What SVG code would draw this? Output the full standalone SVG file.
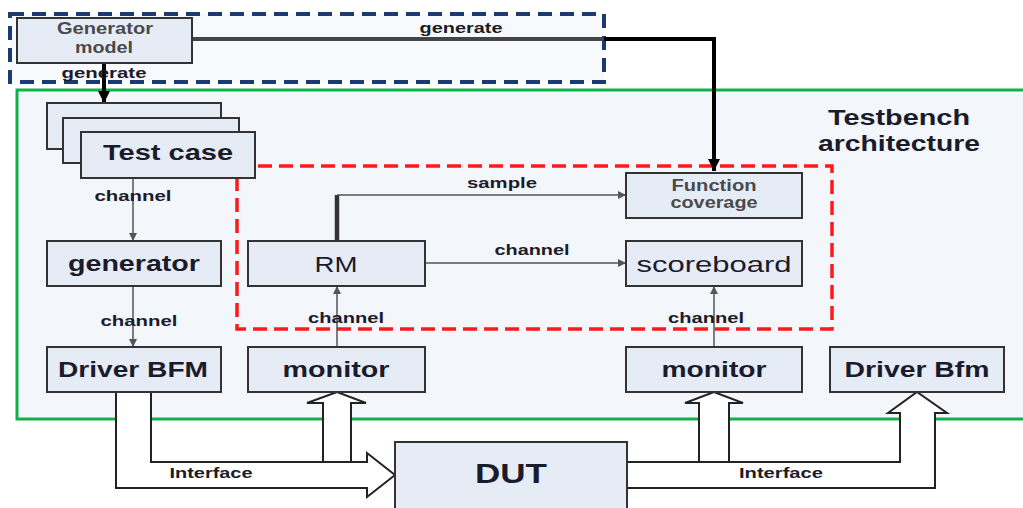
<svg xmlns="http://www.w3.org/2000/svg" width="1023" height="508" viewBox="0 0 1023 508">
  <defs>
    <style>
      .box { fill: #e6ecf6; stroke: #333; stroke-width: 2; }
      .t { font-family: "Liberation Sans", Arial, sans-serif; text-anchor: middle; fill: #1b1b2c; }
      .b { font-weight: bold; }
      .grey { fill: #4a4a4a; }
      .lbl { font-family: "Liberation Sans", Arial, sans-serif; font-weight: bold; font-size: 15px; fill: #1b1b2c; }
      .wire { fill: none; stroke: #555; stroke-width: 1.5; }
      .fat { fill: #fff; stroke: #222; stroke-width: 2; stroke-linejoin: miter; }
    </style>
    <marker id="ah" viewBox="0 0 10 10" refX="10" refY="5" markerWidth="8" markerHeight="8" markerUnits="userSpaceOnUse" orient="auto">
      <path d="M0,0 L10,5 L0,10 z" fill="#555"/>
    </marker>
    <marker id="ahb" viewBox="0 0 10 10" refX="10" refY="5" markerWidth="12" markerHeight="12" markerUnits="userSpaceOnUse" orient="auto">
      <path d="M0,0 L10,5 L0,10 z" fill="#000"/>
    </marker>
  </defs>

  <rect width="1023" height="508" fill="#fff"/>

  <!-- model area -->
  <rect id="model-area" x="10" y="14" width="594" height="68" fill="#f8f9fc" stroke="#1c3a70" stroke-width="4" stroke-dasharray="14 8"/>

  <!-- testbench area -->
  <g id="testbench">
    <rect x="17" y="90" width="1020" height="329" fill="#f3f6fb" stroke="#12b04a" stroke-width="3"/>
    <text class="t b" x="899" y="125" font-size="22" textLength="142" lengthAdjust="spacingAndGlyphs">Testbench</text>
    <text class="t b" x="899" y="151" font-size="22" textLength="162" lengthAdjust="spacingAndGlyphs">architecture</text>
  </g>

  <!-- check area -->
  <rect id="check-area" x="237" y="166" width="595" height="163" fill="none" stroke="#ff1a1a" stroke-width="3.5" stroke-dasharray="14 7"/>

  <!-- interfaces between BFMs, monitors and DUT -->
  <g id="interfaces">
    <polygon class="fat" points="116,392 116,488 367,488 367,497 395,475 367,453 367,462 151,462 151,392"/>
    <polygon class="fat" points="627,462 900,462 900,413 888,413 917,392 947,413 935,413 935,488 627,488"/>
    <polygon class="fat" points="323,462 323,403 307,403 337,392 366,403 351,403 351,462"/>
    <polygon class="fat" points="699,462 699,403 685,403 714,392 743,403 729,403 729,462"/>
    <text class="lbl" x="211" y="478" font-size="14" text-anchor="middle" textLength="83" lengthAdjust="spacingAndGlyphs">Interface</text>
    <text class="lbl" x="781" y="478" font-size="14" text-anchor="middle" textLength="84" lengthAdjust="spacingAndGlyphs">Interface</text>
  </g>

  <!-- connectors -->
  <g id="connectors">
    <path d="M192,39 H714 V171" fill="none" stroke="#000" stroke-width="4" marker-end="url(#ahb)"/>
    <path d="M192,39 H604" fill="none" stroke="#444" stroke-width="4"/>
    <path d="M104,63 V103" fill="none" stroke="#000" stroke-width="4" marker-end="url(#ahb)"/>
    <path class="wire" d="M133,178 V241" marker-end="url(#ah)"/>
    <path class="wire" d="M133,286 V347" marker-end="url(#ah)"/>
    <path d="M337,241 V195" fill="none" stroke="#333" stroke-width="4.5"/>
    <path class="wire" d="M337,195 H626" marker-end="url(#ah)"/>
    <path class="wire" d="M425,263 H626" marker-end="url(#ah)"/>
    <path class="wire" d="M337,347 V286" marker-end="url(#ah)"/>
    <path class="wire" d="M714,347 V286" marker-end="url(#ah)"/>
    <text class="lbl" x="461" y="33" font-size="16" text-anchor="middle" textLength="83" lengthAdjust="spacingAndGlyphs">generate</text>
    <text class="lbl" x="104" y="78" font-size="16" text-anchor="middle" textLength="85" lengthAdjust="spacingAndGlyphs">generate</text>
    <text class="lbl" x="133" y="201" font-size="16" text-anchor="middle" textLength="77" lengthAdjust="spacingAndGlyphs">channel</text>
    <text class="lbl" x="139" y="326" font-size="16" text-anchor="middle" textLength="77" lengthAdjust="spacingAndGlyphs">channel</text>
    <text class="lbl" x="502" y="188" font-size="16" text-anchor="middle" textLength="70" lengthAdjust="spacingAndGlyphs">sample</text>
    <text class="lbl" x="532" y="255" font-size="16" text-anchor="middle" textLength="75" lengthAdjust="spacingAndGlyphs">channel</text>
    <text class="lbl" x="346" y="323" font-size="16" text-anchor="middle" textLength="76" lengthAdjust="spacingAndGlyphs">channel</text>
    <text class="lbl" x="706" y="323" font-size="16" text-anchor="middle" textLength="76" lengthAdjust="spacingAndGlyphs">channel</text>
  </g>

  <g id="generator-model">
    <rect class="box" x="17" y="18" width="175" height="45"/>
    <text class="t b grey" x="105" y="34" font-size="16" textLength="96" lengthAdjust="spacingAndGlyphs">Generator</text>
    <text class="t b grey" x="104" y="53" font-size="16" textLength="58" lengthAdjust="spacingAndGlyphs">model</text>
  </g>

  <g id="test-case">
    <rect class="box" x="47" y="103" width="174" height="46"/>
    <rect class="box" x="63" y="118" width="176" height="45"/>
    <rect class="box" x="81" y="132" width="174" height="46"/>
    <text class="t b" x="168" y="160" font-size="22" textLength="130" lengthAdjust="spacingAndGlyphs">Test case</text>
  </g>

  <g id="generator">
    <rect class="box" x="47" y="241" width="174" height="45"/>
    <text class="t b" x="134" y="271" font-size="22" textLength="132" lengthAdjust="spacingAndGlyphs">generator</text>
  </g>

  <g id="rm">
    <rect class="box" x="248" y="241" width="177" height="45"/>
    <text class="t" x="336" y="272" font-size="22" fill="#3a3a3a" textLength="43" lengthAdjust="spacingAndGlyphs">RM</text>
  </g>

  <g id="function-coverage">
    <rect class="box" x="626" y="173" width="176" height="45"/>
    <text class="t b grey" x="714" y="191" font-size="16" textLength="85" lengthAdjust="spacingAndGlyphs">Function</text>
    <text class="t b grey" x="714" y="208" font-size="16" textLength="87" lengthAdjust="spacingAndGlyphs">coverage</text>
  </g>

  <g id="scoreboard">
    <rect class="box" x="626" y="241" width="176" height="45"/>
    <text class="t" x="714" y="272" font-size="22" fill="#2a2a2a" textLength="155" lengthAdjust="spacingAndGlyphs">scoreboard</text>
  </g>

  <g id="driver-bfm">
    <rect class="box" x="47" y="347" width="174" height="45"/>
    <text class="t b" x="133" y="377" font-size="22" textLength="150" lengthAdjust="spacingAndGlyphs">Driver BFM</text>
  </g>

  <g id="monitor-in">
    <rect class="box" x="248" y="347" width="177" height="45"/>
    <text class="t b" x="336" y="377" font-size="22" textLength="107" lengthAdjust="spacingAndGlyphs">monitor</text>
  </g>

  <g id="monitor-out">
    <rect class="box" x="626" y="347" width="176" height="45"/>
    <text class="t b" x="714" y="377" font-size="22" textLength="105" lengthAdjust="spacingAndGlyphs">monitor</text>
  </g>

  <g id="driver-bfm-out">
    <rect class="box" x="830" y="347" width="174" height="45"/>
    <text class="t b" x="917" y="377" font-size="22" textLength="145" lengthAdjust="spacingAndGlyphs">Driver Bfm</text>
  </g>

  <g id="dut">
    <rect class="box" x="395" y="442" width="232" height="80"/>
    <text class="t b" x="511" y="483" font-size="28" textLength="72" lengthAdjust="spacingAndGlyphs">DUT</text>
  </g>
</svg>
